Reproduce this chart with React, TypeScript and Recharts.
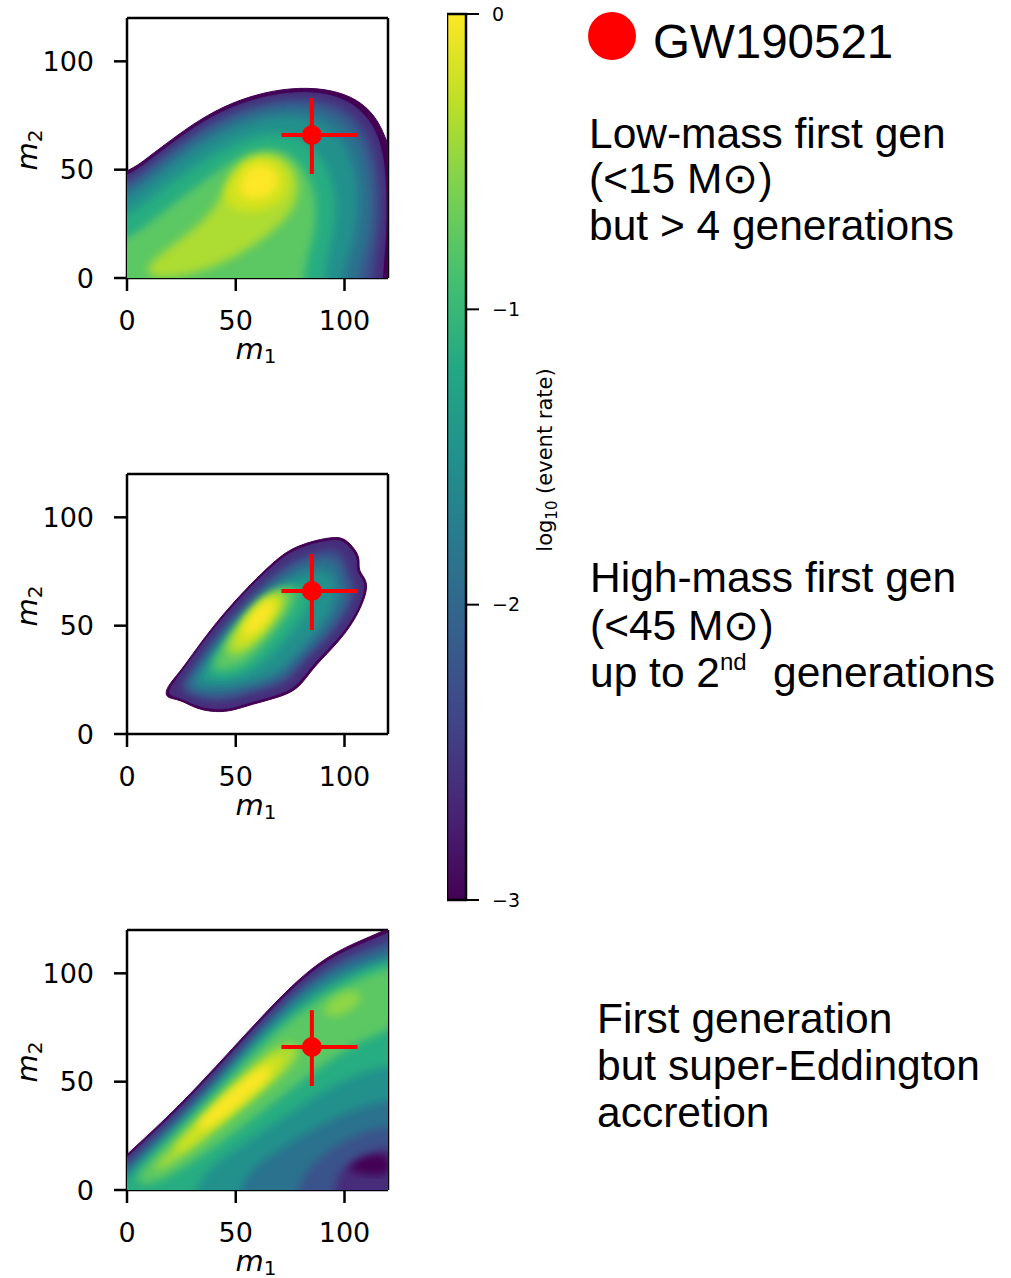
import React from "react";
import {
  ComposedChart,
  Scatter,
  XAxis,
  YAxis,
  ReferenceLine,
  ReferenceArea,
  Curve,
} from "recharts";

// axis ticks
const M_TICKS = [0, 50, 100];
const CB_TICKS = [-3, -2, -1, 0];

// GW190521 point (m1, m2) and the ends of its error bars
const GW_POINT = [[85, 66]];
const GW_XBAR = [[71, 66], [106, 66]];
const GW_YBAR = [[85, 48], [85, 83]];

// contour polygons (m1, m2), outer -> inner
// panel 1: low-mass first gen, > 4 generations
const LOW_L0 = [[-30, -30], [-30, 40], [0, 48], [10, 56], [20, 63.5], [33, 73], [48, 81], [64, 86], [79, 88], [94, 87], [106, 82.5], [114, 75], [118.5, 66], [121, 58], [150, 40], [150, -30]];
const LOW_L1 = [[-30, -30], [-30, 38], [0, 46], [10, 54], [20, 61.5], [33, 71], [48, 79], [64, 84], [79, 86], [93, 85], [104, 80.5], [111.5, 73], [116, 64], [118.5, 52], [119.2, 35], [118.8, 15], [117.5, 4], [116, -30]];
const LOW_L2 = [[-30, -30], [-30, 35], [0, 43.5], [10, 51.5], [20, 59], [33, 68.5], [48, 76.5], [64, 81.5], [79, 83], [92, 81.5], [102, 77], [109, 69], [113.5, 59], [116, 46], [116.5, 30], [115, 14], [112.5, 3], [111, -30]];
const LOW_L3 = [[-30, -30], [-30, 31], [0, 40], [10, 48], [20, 55.5], [33, 65], [48, 73], [63, 78], [77, 79.5], [89, 78], [99, 73], [106, 65], [110, 54], [112, 41], [112, 26], [110, 12], [106, 2], [104, -30]];
const LOW_L4 = [[-30, -30], [-30, 26], [0, 35.5], [10, 43.5], [20, 51], [33, 60.5], [48, 68.5], [62, 73.5], [75, 75], [86, 73], [95, 68], [101, 60], [105, 49], [106, 36], [105, 22], [102, 10], [98, 0], [96, -30]];
const LOW_L5 = [[-30, -30], [-30, 19], [0, 28], [10, 36], [22, 45], [35, 54], [49, 62], [62, 66.5], [73, 67], [82, 63], [89, 56], [94, 46], [96, 34], [95, 21], [91, 8], [88, -30]];
const LOW_L6 = [[-30, -30], [-30, 10], [0, 17], [10, 25], [20, 33], [32, 42], [44, 51], [55, 58], [65, 60], [74, 58], [81, 51], [86, 41], [87, 29], [85, 16], [81, 5], [79, -30]];
const LOW_L7 = [[8, 3], [14, 10], [24, 17], [34, 25], [42, 34], [46, 43], [51, 51], [59, 56], [68, 57], [75, 53], [79, 45], [78, 35], [72, 26], [62, 18], [50, 10], [36, 4], [24, 1], [14, 0]];
const LOW_L8 = [[44, 37], [47, 46], [53, 53.5], [61, 56.5], [70, 54], [75, 46], [73, 37], [66, 32], [56, 30], [49, 32]];
const LOW_L9 = [[51, 41], [54, 49], [60, 53], [67, 51], [70, 45], [67, 39], [60, 36], [54, 37]];

// panel 2: high-mass first gen, up to 2nd generation
const HIGH_L0 = [[18, 21.5], [24.2, 28.4], [31.8, 39.2], [41, 51.5], [51.6, 63.7], [62.2, 74.5], [71.4, 83], [79, 87], [86.6, 89.4], [95.7, 91.1], [100.3, 90.2], [104.9, 85.3], [107.2, 80.6], [106.1, 75.3], [111, 70.6], [109.4, 62.2], [103.3, 49.9], [94.2, 39.2], [85, 30], [79, 20.7], [69.9, 16.9], [57.7, 13.8], [48.5, 10.7], [41, 10], [31.8, 11.5], [24.2, 16.1], [17.5, 16.5]];
const HIGH_L1 = [[19.5, 21], [25, 28.2], [32.6, 38.9], [41.8, 51], [52.3, 63.1], [62.8, 73.8], [72, 82], [79.5, 85.8], [86.8, 88.1], [95.6, 89.7], [99.8, 88.8], [104, 84.3], [105.9, 80], [105, 74.7], [109.8, 70.2], [108.2, 62.2], [102.2, 50.2], [93.1, 39.9], [84, 30.8], [78, 21.8], [69.5, 18.1], [57.6, 15.1], [48.5, 12], [41, 11.3], [32.2, 12.8], [24.9, 16.8], [19.3, 17.7]];
const HIGH_L2 = [[24, 21], [29, 28.5], [36, 38.5], [44.5, 50], [54.5, 61], [64.5, 71], [73.5, 78], [81, 82], [88, 84], [95, 85.2], [98, 83.5], [101, 79], [101.5, 73.5], [105, 69], [104, 62], [98.5, 51.5], [90, 42], [81, 33.5], [75, 25], [67.5, 21.8], [56.5, 19], [48, 16], [40.5, 15.3], [33, 16.5], [27, 19.5]];
const HIGH_L3 = [[27, 22], [32, 29], [38.5, 38.5], [46.5, 49], [56, 59.5], [65.5, 68.5], [74, 75], [81.5, 78.5], [88.5, 80.5], [94, 80.5], [97.5, 77.5], [98.5, 72], [101, 67.5], [100, 61], [95, 52], [87.5, 43], [79, 35], [73, 27.5], [66, 24], [56, 21.5], [47.5, 19], [40, 18.3], [33, 19.3], [29, 21]];
const HIGH_L4 = [[30.5, 23.5], [35, 30], [41, 38.5], [48.5, 48], [57.5, 57.5], [66.5, 65.5], [74, 71], [81, 74], [87.5, 75.5], [93, 74.5], [95.5, 70.5], [96, 65], [94, 58], [89, 50], [82, 42], [75.5, 35], [70, 29.5], [63, 26], [55, 24], [47, 22.5], [40, 22], [34, 22.5]];
const HIGH_L5 = [[35, 27], [39.5, 33], [45, 41], [51.5, 49], [59, 57], [67, 63.5], [74, 67.5], [80, 69], [84.5, 67.5], [85, 62], [81.5, 55], [75.5, 47], [69, 39.5], [62.5, 33], [55.5, 28.5], [48, 26], [41, 25.5]];
const HIGH_L6 = [[39, 32], [43.5, 39.5], [49, 47.5], [55.5, 55.5], [62.5, 62.5], [69, 67], [75, 68.5], [78.5, 66], [76.5, 59], [71, 51], [64.5, 43], [58.5, 36.5], [52, 31.5], [45.5, 29.5], [41, 30]];
const HIGH_L7 = [[45, 39], [49, 46], [54, 53], [60, 60], [66, 64.5], [71, 66], [73.5, 63.5], [71, 57], [65, 49], [59, 42], [53, 37.5], [48, 36]];
const HIGH_L8 = [[49, 43], [53, 50], [58, 57], [64, 62], [69, 64], [71, 61], [68, 55], [62, 47], [56, 42], [51, 40]];
const HIGH_L9 = [[53, 47], [56, 53], [61, 59], [66, 62], [68, 60], [66, 55], [61, 49], [56, 45]];

// panel 3: first generation, super-Eddington accretion
const EDD_L0 = [[-30, -30], [-30, -12], [0, 16.5], [18, 33], [33, 48.4], [48.5, 65.3], [64, 82.2], [76, 94.5], [86.6, 103.7], [97.3, 110.6], [109.4, 116], [119, 120], [150, 135], [150, -30]];
const EDD_L1 = [[-30, -30], [-30, -13.5], [0, 15], [18, 31.5], [33, 46.8], [48.5, 63.7], [64, 80.6], [76, 92.8], [86.6, 102], [97.3, 108.8], [109.4, 114.2], [120, 118.3], [150, 132], [150, -30]];
const EDD_DIP = [[100, 11], [106, 15], [113, 17], [121, 16], [121, 7], [113, 7], [105, 8]];
const EDD_L2 = [[-30, -30], [-30, -17], [0, 12.5], [18, 29], [33, 44], [48.5, 61], [64, 78], [76, 90], [86.6, 99], [97.3, 105.8], [109.4, 111], [120, 115], [150, 127], [150, 22], [120, 20], [110, 18], [100, 12], [95, 4], [93, -30]];
const EDD_L3 = [[-30, -30], [-30, -20], [0, 10], [18, 26.5], [33, 41.5], [48, 58], [63, 75], [75, 87], [86, 96], [97, 102.5], [109, 107.5], [120, 111], [150, 122], [150, 32], [120, 30], [108, 27], [96, 21], [86, 13], [78, 4], [74, -30]];
const EDD_L4 = [[-30, -30], [-30, -23], [0, 7.5], [17, 23.5], [32, 38.5], [47, 54.5], [62, 71.5], [74, 83], [85, 92], [96, 98], [108, 103], [120, 106], [150, 116], [150, 44], [120, 42], [106, 38], [92, 32], [78, 24], [64, 15], [52, 6], [45, -30]];
const EDD_L5 = [[-30, -30], [-30, -26], [0, 5], [16, 20.5], [30, 34.5], [45, 50], [59, 66], [71, 77.5], [83, 87.5], [95, 95], [107, 101], [120, 106], [150, 114], [150, 60], [120, 58], [106, 54], [92, 47], [78, 38], [62, 27], [46, 16], [32, 7], [22, -30]];
const EDD_L6 = [[2, 4], [14, 17], [28, 31], [42, 45.5], [56, 60], [68, 72], [80, 82], [92, 90], [104, 96], [116, 101], [126, 104], [126, 76], [114, 72], [102, 66], [90, 58], [78, 49], [64, 38], [50, 27], [36, 17], [22, 8], [10, 2]];
const EDD_L7 = [[10, 8], [20, 18], [32, 30], [44, 43], [56, 55], [66, 64], [74, 68], [80, 66], [76, 58], [66, 49], [54, 39], [42, 29], [30, 19], [18, 11]];
const EDD_L7B = [[90, 83], [95, 89], [102, 92], [108, 91], [106, 85], [99, 81], [93, 80]];
const EDD_L8 = [[20, 18], [30, 28], [40, 38.5], [50, 48], [60, 56], [68, 62], [73, 62], [70, 56], [62, 48], [53, 40], [43, 32], [33, 24], [25, 18]];
const EDD_L9 = [[32, 30], [40, 38], [48, 45.5], [56, 52], [63, 57], [67, 56], [63, 50], [56, 44], [48, 37], [40, 31], [34, 28]];

// viridis levels, log10 rate -3 .. 0
const V = ["#440154", "#472c7a", "#3b528b", "#2c728e", "#21918c", "#27ad81", "#5cc863", "#addc30", "#d2e21b", "#fde725"];
const VIRIDIS_STOPS: [number, string][] = [
  [0, "#440154"], [0.1, "#482475"], [0.2, "#414487"], [0.3, "#355f8d"], [0.4, "#2a788e"],
  [0.5, "#21918c"], [0.6, "#22a884"], [0.7, "#44bf70"], [0.8, "#7ad151"], [0.9, "#bddf26"], [1, "#fde725"],
];

type Level = { color: string; pts: number[][]; soft?: boolean };

const LOW_LEVELS: Level[] = [
  { color: V[0], pts: LOW_L0 }, { color: V[1], pts: LOW_L1 }, { color: V[2], pts: LOW_L2, soft: true },
  { color: V[3], pts: LOW_L3, soft: true }, { color: V[4], pts: LOW_L4, soft: true }, { color: V[5], pts: LOW_L5, soft: true },
  { color: V[6], pts: LOW_L6, soft: true }, { color: V[7], pts: LOW_L7, soft: true }, { color: V[8], pts: LOW_L8, soft: true },
  { color: V[9], pts: LOW_L9, soft: true },
];
const HIGH_LEVELS: Level[] = [
  { color: V[0], pts: HIGH_L0 }, { color: V[1], pts: HIGH_L1 }, { color: V[2], pts: HIGH_L2, soft: true },
  { color: V[3], pts: HIGH_L3, soft: true }, { color: V[4], pts: HIGH_L4, soft: true }, { color: V[5], pts: HIGH_L5, soft: true },
  { color: V[6], pts: HIGH_L6, soft: true }, { color: V[7], pts: HIGH_L7, soft: true }, { color: V[8], pts: HIGH_L8, soft: true },
  { color: V[9], pts: HIGH_L9, soft: true },
];
const EDD_LEVELS: Level[] = [
  { color: V[0], pts: EDD_L0 }, { color: V[1], pts: EDD_L1 }, { color: V[0], pts: EDD_DIP, soft: true },
  { color: V[2], pts: EDD_L2, soft: true }, { color: V[3], pts: EDD_L3, soft: true }, { color: V[4], pts: EDD_L4, soft: true },
  { color: V[5], pts: EDD_L5, soft: true }, { color: V[6], pts: EDD_L6, soft: true }, { color: V[7], pts: EDD_L7, soft: true },
  { color: "#8fd744", pts: EDD_L7B, soft: true }, { color: V[8], pts: EDD_L8, soft: true }, { color: V[9], pts: EDD_L9, soft: true },
];

const CB_DATA = [{ x: 0, y: -3 }, { x: 1, y: 0 }];

const toPts = (arr: number[][]) => arr.map(([x, y]) => ({ x, y }));

const contourLine = (color: string, soft: boolean) => (p: any) => (
  <g filter={soft ? "url(#soft)" : undefined}>
    <Curve points={p.points} type="basisClosed" fill={color} stroke={color} strokeWidth={1} />
  </g>
);

const NoDot = () => <g />;
const RedDot = (p: any) => <circle cx={p.cx} cy={p.cy} r={10} fill="#ff0000" />;

const AXIS_FONT = "DejaVu Sans";
const TEXT_FONT = "Liberation Sans";
const black = { stroke: "#000", strokeWidth: 2.5 };

const M1Label = () => (
  <text x={256} y={351} textAnchor="middle" fontFamily={AXIS_FONT} fontStyle="italic" fontSize={29} fill="#000">
    m<tspan fontSize={20} dy={4} fontStyle="normal">1</tspan>
  </text>
);
const M2Label = () => (
  <text x={37} y={142} transform="rotate(-90 37 142)" textAnchor="middle" fontFamily={AXIS_FONT} fontStyle="italic" fontSize={29} fill="#000">
    m<tspan fontSize={20} dy={5} fontStyle="normal">2</tspan>
  </text>
);

function Panel({ top, levels }: { top: number; levels: Level[] }) {
  return (
    <div style={{ position: "absolute", left: 0, top }}>
      <ComposedChart width={418} height={370} margin={{ top: 10, right: 30, bottom: 0, left: 0 }}>
        {levels.map((lv, i) => (
          <Scatter
            key={i}
            data={toPts(lv.pts)}
            line={contourLine(lv.color, !!lv.soft)}
            lineType="joint"
            shape={NoDot}
            isAnimationActive={false}
          />
        ))}
        <Scatter data={toPts(GW_XBAR)} line={{ stroke: "#ff0000", strokeWidth: 4 }} lineType="joint" shape={NoDot} isAnimationActive={false} />
        <Scatter data={toPts(GW_YBAR)} line={{ stroke: "#ff0000", strokeWidth: 4 }} lineType="joint" shape={NoDot} isAnimationActive={false} />
        <Scatter data={toPts(GW_POINT)} shape={RedDot} isAnimationActive={false} />
        <XAxis
          type="number"
          dataKey="x"
          domain={[0, 120]}
          ticks={M_TICKS}
          allowDataOverflow
          interval={0}
          height={100}
          tickSize={13}
          tickMargin={20}
          axisLine={black}
          tickLine={black}
          tick={{ fill: "#000", fontSize: 27, fontFamily: AXIS_FONT }}
          label={M1Label}
        />
        <YAxis
          type="number"
          dataKey="y"
          domain={[0, 120]}
          ticks={M_TICKS}
          allowDataOverflow
          interval={0}
          width={127}
          tickSize={13}
          tickMargin={20}
          axisLine={black}
          tickLine={black}
          tick={{ fill: "#000", fontSize: 27, fontFamily: AXIS_FONT }}
          label={M2Label}
        />
        <ReferenceLine x={120} stroke="#000" strokeWidth={2.5} />
        <ReferenceLine y={120} stroke="#000" strokeWidth={2.5} />
      </ComposedChart>
    </div>
  );
}

const CbLabel = () => (
  <text x={105} y={456} transform="rotate(-90 105 456)" textAnchor="middle" fontFamily={AXIS_FONT} fontSize={21} fill="#000">
    log<tspan fontSize={15} dy={5}>10</tspan>
    <tspan dy={-5}> (event rate)</tspan>
  </text>
);

function ColorBar() {
  return (
    <div style={{ position: "absolute", left: 447, top: 4 }}>
      <ComposedChart width={140} height={920} data={CB_DATA} margin={{ top: 10, right: 0, bottom: 24, left: 0 }}>
        <XAxis type="number" dataKey="x" domain={[0, 1]} hide />
        <YAxis
          type="number"
          dataKey="y"
          orientation="right"
          domain={[-3, 0]}
          ticks={CB_TICKS}
          interval={0}
          width={121}
          tickSize={13}
          tickMargin={13}
          axisLine={false}
          tickLine={{ stroke: "#000", strokeWidth: 2 }}
          tick={{ fill: "#000", fontSize: 19, fontFamily: AXIS_FONT }}
          tickFormatter={(v: number) => (v === 0 ? "0" : `\u2212${Math.abs(v)}`)}
          label={CbLabel}
        />
        <ReferenceArea x1={0} x2={1} y1={-3} y2={0} fill="url(#viridis)" fillOpacity={1} stroke="#000" strokeWidth={2.5} />
      </ComposedChart>
    </div>
  );
}

export default function App() {
  return (
    <div style={{ position: "absolute", left: 0, top: 0, width: 1011, height: 1278, background: "#fff" }}>
      <svg width={1011} height={1278} style={{ position: "absolute", left: 0, top: 0 }}>
        <defs>
          <linearGradient id="viridis" x1="0" y1="1" x2="0" y2="0">
            {VIRIDIS_STOPS.map(([o, c]) => (
              <stop key={o} offset={o} stopColor={c} />
            ))}
          </linearGradient>
          <filter id="soft" x="-20%" y="-20%" width="140%" height="140%">
            <feGaussianBlur stdDeviation={4} />
          </filter>
        </defs>
        <circle cx={612} cy={36} r={24} fill="#ff0000" />
        <g fontFamily={TEXT_FONT} fill="#000">
          <text x={653} y={58} fontSize={47.5}>GW190521</text>
          <text x={589} y={148} fontSize={42.5}>Low-mass first gen</text>
          <text x={589} y={193} fontSize={42.5}>(&lt;15 M⊙)</text>
          <text x={589} y={240} fontSize={42.5}>but &gt; 4 generations</text>
          <text x={590} y={592} fontSize={42.5}>High-mass first gen</text>
          <text x={590} y={640} fontSize={42.5}>(&lt;45 M⊙)</text>
          <text x={590} y={687} fontSize={42.5}>
            up to 2<tspan fontSize={24} dy={-17}>nd</tspan>
          </text>
          <text x={773} y={687} fontSize={42.5}>generations</text>
          <text x={597} y={1033} fontSize={42.5}>First generation</text>
          <text x={597} y={1080} fontSize={42.5}>but super-Eddington</text>
          <text x={597} y={1127} fontSize={42.5}>accretion</text>
        </g>
      </svg>
      <Panel top={8} levels={LOW_LEVELS} />
      <Panel top={464} levels={HIGH_LEVELS} />
      <Panel top={920} levels={EDD_LEVELS} />
      <ColorBar />
    </div>
  );
}
